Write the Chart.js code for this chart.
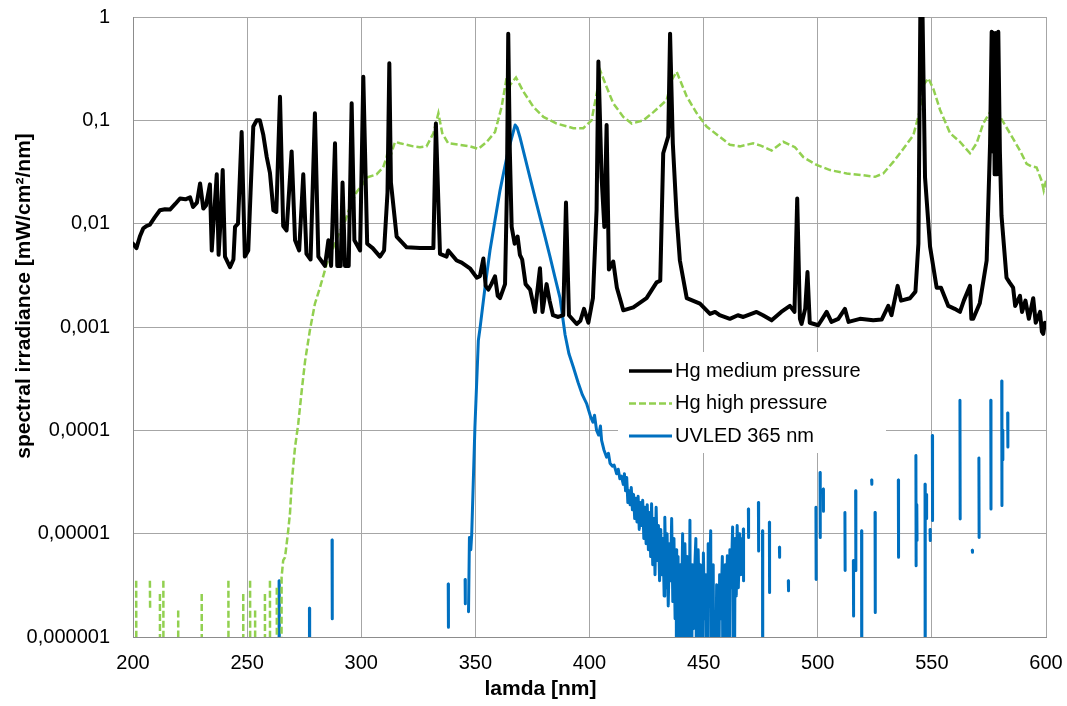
<!DOCTYPE html>
<html>
<head>
<meta charset="utf-8">
<script src="https://cdn.jsdelivr.net/npm/chart.js@4"></script>
<style>
  html, body { margin: 0; padding: 0; background: #fff; }
  #wrap { width: 1067px; height: 706px; }
</style>
</head>
<body>
<div id="wrap"><canvas id="spectrum" width="1067" height="706"></canvas></div>
<script>
// Series names and axis titles
const seriesNames = ['Hg medium pressure', 'Hg high pressure', 'UVLED 365 nm'];
const xTitle = 'lamda [nm]';
const yTitle = 'spectral irradiance [mW/cm²/nm]';

// Axis ticks
const yTickValues = [1e-6, 1e-5, 1e-4, 1e-3, 1e-2, 1e-1, 1];
const yTickLabels = ['0,000001', '0,00001', '0,0001', '0,001', '0,01', '0,1', '1'];
const xTickValues = [200, 250, 300, 350, 400, 450, 500, 550, 600];

// Hg medium pressure lamp: [nm, mW/cm²/nm]
const hgMedium = [
  [200.0,0.0064],[201.5,0.0058],[203.0,0.0075],[204.5,0.009],[206.0,0.0095],[207.4,0.0098],
  [209.5,0.0115],[211.8,0.0135],[214.0,0.0138],[216.2,0.0137],[218.5,0.0155],[220.6,0.0175],
  [223.0,0.0172],[225.0,0.018],[226.3,0.0145],[228.0,0.016],[229.4,0.0245],[230.8,0.014],
  [232.0,0.015],[233.7,0.024],[234.5,0.0055],[235.5,0.012],[236.7,0.030],[237.5,0.005],
  [238.5,0.012],[239.3,0.033],[240.3,0.0048],[242.5,0.0038],[244.0,0.0045],[244.7,0.0093],
  [246.0,0.010],[247.6,0.077],[249.0,0.0048],[250.5,0.0055],[251.5,0.020],[252.7,0.087],
  [254.2,0.10],[255.6,0.10],[257.1,0.072],[258.6,0.044],[260.0,0.031],[261.5,0.0135],
  [262.8,0.013],[264.4,0.169],[265.8,0.0095],[267.3,0.0086],[269.5,0.050],[271.0,0.0069],
  [272.8,0.0055],[274.6,0.030],[276.0,0.0051],[277.8,0.0045],[279.7,0.117],[281.2,0.0048],
  [284.1,0.0039],[285.6,0.0069],[286.8,0.0039],[288.5,0.060],[289.5,0.0039],[291.0,0.0039],
  [291.8,0.025],[292.9,0.0039],[294.5,0.0039],[295.8,0.146],[297.0,0.0069],[299.5,0.0055],
  [300.9,0.264],[302.6,0.0064],[305.0,0.0058],[308.2,0.0048],[310.0,0.0055],[311.5,0.02],
  [312.3,0.356],[313.0,0.025],[315.5,0.0075],[319.9,0.0059],[325.7,0.0058],[331.6,0.0058],
  [332.7,0.093],[334.5,0.0051],[337.4,0.0048],[338.1,0.0055],[341.8,0.0044],[344.0,0.0042],
  [347.6,0.0037],[350.6,0.0030],[352.0,0.0031],[353.5,0.0046],[354.5,0.0025],[355.7,0.0023],
  [357.0,0.0026],[358.6,0.0031],[359.8,0.0020],[360.8,0.0019],[363.0,0.0026],[363.8,0.02],
  [364.4,0.69],[365.1,0.05],[365.9,0.0093],[367.2,0.0064],[368.5,0.0075],[369.5,0.0050],
  [370.5,0.0045],[372.0,0.0026],[374.0,0.0023],[376.1,0.0014],[378.3,0.0037],[379.4,0.0014],
  [381.2,0.0026],[382.5,0.0018],[384.0,0.0013],[386.3,0.00125],[388.5,0.0013],[389.7,0.016],
  [391.0,0.0013],[394.4,0.00107],[396.0,0.00115],[397.6,0.0015],[399.5,0.0011],[401.5,0.0019],
  [403.1,0.0135],[403.9,0.37],[405.3,0.028],[406.5,0.0093],[407.5,0.09],[408.5,0.0036],
  [410.4,0.0043],[412.0,0.0024],[414.8,0.00145],[419.2,0.00155],[425.0,0.0019],[429.4,0.0027],
  [431.0,0.0028],[432.3,0.048],[434.5,0.07],[435.3,0.69],[436.5,0.06],[438.2,0.0116],
  [439.6,0.0044],[442.6,0.0019],[448.4,0.00168],[452.8,0.00134],[455.0,0.0014],[457.0,0.0013],
  [461.5,0.0012],[465.0,0.0013],[467.4,0.00125],[473.2,0.0014],[476.0,0.0013],[479.8,0.00116],
  [484.0,0.0014],[487.8,0.0016],[489.8,0.0014],[491.0,0.0175],[492.2,0.0012],[492.9,0.00107],
  [494.5,0.0015],[495.5,0.0034],[496.5,0.0011],[500.2,0.00104],[502.0,0.0012],[503.9,0.0014],
  [506.0,0.00112],[509.0,0.0012],[511.9,0.0015],[513.5,0.00112],[518.5,0.0012],[524.3,0.00116],
  [528.0,0.00118],[530.9,0.0016],[532.3,0.0013],[535.0,0.0025],[536.5,0.0018],[540.4,0.0019],
  [542.8,0.0022],[544.1,0.0064],[545.0,1.5],[545.8,1.5],[547.0,0.028],[549.2,0.0060],
  [552.1,0.0024],[554.0,0.0024],[557.2,0.0016],[560.0,0.0015],[562.3,0.0014],[564.0,0.0018],
  [566.7,0.0025],[567.3,0.0012],[568.1,0.0012],[571.0,0.0017],[574.0,0.0044],[575.5,0.06],
  [576.2,0.72],[576.6,0.05],[577.0,0.70],[577.5,0.03],[578.0,0.70],[578.5,0.03],
  [579.1,0.72],[579.8,0.05],[580.5,0.012],[582.7,0.003],[584.0,0.0027],[585.6,0.0024],
  [586.5,0.0016],[588.6,0.0020],[589.5,0.0014],[591.0,0.0018],[592.5,0.0012],[594.4,0.0019],
  [595.5,0.0011],[597.4,0.0014],[598.2,0.0009],[598.8,0.00086],[599.5,0.0011],[600.0,0.00105]
];

// Hg high pressure lamp (null = gap, 1e-8 = below the axis floor)
const hgHigh = [
  [201.4,3.5e-6],[201.6,1e-8],[201.7,null],
  [207.4,3.5e-6],[207.5,1.9e-6],[207.6,null],
  [211.8,2.6e-6],[211.9,1e-8],[212.0,null],
  [213.3,3.5e-6],[213.4,1e-8],[213.5,null],
  [219.8,1.8e-6],[219.9,1e-8],[220.0,null],
  [230.1,2.6e-6],[230.2,1e-8],[230.3,null],
  [241.8,3.5e-6],[241.9,1e-8],[242.0,null],
  [248.3,2.6e-6],[248.4,1e-8],[248.5,null],
  [251.3,3.5e-6],[251.4,1e-8],[251.5,null],
  [253.5,1.8e-6],[253.6,1e-8],[253.7,null],
  [257.8,2.6e-6],[257.9,1e-8],[258.0,null],
  [260.0,3.5e-6],[260.1,1e-8],[260.2,null],
  [263.0,3.0e-6],[263.1,1e-8],[263.2,null],
  [265.0,1e-8],[265.1,3.8e-6],[265.8,5.5e-6],[266.6,5.9e-6],[267.3,7.9e-6],[268.0,1.07e-5],
  [268.8,1.6e-5],[269.5,3.0e-5],[270.2,4.5e-5],[271.0,6.9e-5],[272.4,1.16e-4],[273.9,2.4e-4],
  [275.4,4.7e-4],[277.5,9.3e-4],[279.7,0.00168],[281.9,0.0024],[284.9,0.0041],[287.8,0.0059],
  [290.7,0.0086],[292.1,0.0093],[295.0,0.0145],[298.0,0.0203],[300.9,0.0245],[302.4,0.028],
  [306.7,0.030],[309.6,0.035],[311.1,0.044],[311.8,0.053],[312.3,0.030],[312.8,0.045],
  [314.8,0.062],[317.0,0.060],[319.9,0.058],[322.8,0.056],[325.7,0.055],[328.6,0.056],
  [331.6,0.075],[333.8,0.117],[335.5,0.075],[338.1,0.060],[343.2,0.058],[347.6,0.056],
  [351.3,0.053],[355.0,0.062],[358.6,0.077],[361.5,0.135],[363.7,0.26],[364.5,0.16],
  [365.2,0.22],[367.8,0.26],[371.0,0.19],[375.4,0.135],[379.8,0.108],[385.6,0.093],
  [392.9,0.084],[397.3,0.084],[400.9,0.10],[403.1,0.18],[404.9,0.295],[407.5,0.21],
  [410.4,0.146],[414.8,0.108],[418.5,0.093],[423.6,0.10],[428.0,0.12],[433.8,0.157],
  [436.0,0.245],[438.2,0.295],[442.6,0.17],[447.0,0.117],[451.3,0.087],[457.2,0.069],
  [461.5,0.058],[465.9,0.056],[471.7,0.060],[475.0,0.057],[479.8,0.051],[484.9,0.062],
  [490.0,0.055],[493.7,0.044],[499.5,0.037],[505.4,0.033],[512.7,0.0306],[520.0,0.0294],
  [525.1,0.0284],[528.7,0.0306],[533.1,0.0396],[537.5,0.053],[541.9,0.072],[544.8,0.126],
  [546.3,0.22],[548.5,0.255],[550.7,0.20],[553.6,0.126],[558.0,0.075],[562.3,0.062],
  [566.7,0.048],[569.6,0.060],[572.5,0.093],[575.5,0.12],[577.7,0.13],[579.9,0.108],
  [584.2,0.075],[588.6,0.051],[591.5,0.038],[593.5,0.036],[595.9,0.035],[597.0,0.030],
  [598.1,0.026],[599.0,0.021],[600.0,0.026]
];

// UV LED 365 nm (null = gap, 1e-8 = below the axis floor)
const uvLed = [
  [264.0,3.5e-6],[264.1,1e-8],[264.2,null],
  [277.3,1.9e-6],[277.4,1e-8],[277.5,null],
  [287.2,8.7e-6],[287.3,1.5e-6],[287.4,null],
  [338.1,3.25e-6],[338.2,1.24e-6],[338.3,null],
  [345.5,3.6e-6],[345.6,2.1e-6],[345.7,null],
  [347.0,1.76e-6],[347.4,9.2e-6],[348.0,7e-6],[348.4,9.9e-6],[349.8,1.07e-4],[351.3,7.4e-4],
  [352.0,9.6e-4],[354.2,0.0024],[356.4,0.0055],[358.6,0.0108],[360.8,0.021],[362.6,0.033],
  [364.4,0.051],[366.0,0.069],[367.4,0.09],[368.3,0.085],[369.5,0.069],[371.7,0.044],
  [373.9,0.028],[376.1,0.018],[378.3,0.0116],[380.5,0.0075],[382.7,0.0048],[384.9,0.003],
  [387.1,0.0019],[389.3,8.4e-4],[391.0,5.5e-4],[392.9,4.1e-4],[395.0,2.9e-4],[396.9,2.2e-4],
  [398.8,1.8e-4],[400.5,1.35e-4],[401.5,1.2e-4],[402.2,1.4e-4],[403.1,1e-4],[404.0,9e-5],
  [404.8,1.1e-4],[405.3,8e-5],[406.3,6.5e-5],[407.5,5.5e-5],[408.3,6e-5],[409.0,4.8e-5],
  [410.0,4.5e-5],[410.8,4.6e-5],[411.9,3.8e-5],[412.6,4.2e-5],[413.3,3.4e-5],[414.0,3.6e-5],
  [414.8,3e-5],[415.3,3.8e-5],[415.8,2.6e-5],[416.3,3.5e-5],[416.8,2e-5],[417.3,2.6e-5],
  [417.8,1.9e-5],[418.3,2.8e-5],[418.8,1.7e-5],[419.3,2.4e-5],[419.8,1.4e-5],[420.3,2.2e-5],
  [420.8,1.3e-5],[421.3,2.3e-5],[421.8,1.1e-5],[422.3,2e-5],[422.8,1.2e-5],[423.3,2.1e-5],
  [423.8,9e-6],[424.3,1.8e-5],[424.8,8e-6],[425.3,1.9e-5],[425.8,7e-6],[426.3,1.6e-5],
  [426.8,6e-6],[427.2,1.95e-5],[427.7,5e-6],[428.2,1.4e-5],[428.7,4e-6],[429.2,1.8e-5],
  [429.7,5.5e-6],[430.2,1.2e-5],[430.7,3.5e-6],[431.2,1.1e-5],[431.7,4e-6],[432.2,9e-6],
  [432.7,2.5e-6],[433.0,1.44e-5],[433.5,3e-6],[434.0,1e-5],[434.5,2e-6],[435.0,8e-6],
  [435.5,3.5e-6],[436.0,1.4e-5],[436.5,2.2e-6],[437.0,9e-6],[437.5,1.5e-6],[438.0,7e-6],
  [438.2,1e-8],[438.8,6e-6],[439.3,1e-8],[439.8,5e-6],[440.3,1.5e-6],[440.8,1e-5],
  [441.3,1e-8],[441.8,8e-6],[442.3,2e-6],[442.8,6e-6],[443.3,1e-8],[444.0,1.35e-5],
  [444.5,1e-8],[445.0,5e-6],[445.5,1.2e-6],[446.0,4e-6],[446.6,9e-6],[447.1,1e-8],
  [447.6,7e-6],[448.1,2e-6],[448.6,5e-6],[449.1,1e-8],[449.9,6.5e-6],[450.4,1.5e-6],
  [451.0,4e-6],[451.5,1e-8],[452.0,8e-6],[452.5,3e-6],[453.1,1.07e-5],[453.6,1e-8],
  [454.2,5e-6],[454.7,1e-8],[455.7,3.2e-6],[456.2,1e-8],[457.0,4e-6],[457.5,1.5e-6],
  [458.2,6e-6],[458.7,1e-8],[459.5,5e-6],[460.0,2e-6],[460.4,6.1e-6],[460.9,1e-8],
  [461.5,7e-6],[462.0,3e-6],[462.7,1.16e-5],[463.2,1e-8],[463.8,9e-6],[464.3,2.5e-6],
  [464.7,1.2e-5],[465.2,3e-6],[465.8,1e-5],[466.3,4e-6],[466.8,9e-6],[467.0,null],
  [467.4,1.11e-5],[467.5,3.5e-6],[467.6,null],
  [469.6,1.73e-5],[469.7,9.2e-6],[469.8,null],
  [474.0,2.0e-5],[474.1,6.8e-6],[474.2,null],
  [475.8,1.07e-5],[475.9,1e-8],[476.0,null],
  [478.8,1.29e-5],[478.9,2.7e-6],[479.0,null],
  [483.2,7.4e-6],[483.3,5.9e-6],[483.4,null],
  [487.1,3.5e-6],[487.2,2.8e-6],[487.3,null],
  [499.2,1.8e-5],[499.3,3.6e-6],[499.4,null],
  [501.0,3.9e-5],[501.1,9.2e-6],[501.2,null],
  [502.4,2.7e-5],[502.5,1.65e-5],[502.6,null],
  [511.9,1.6e-5],[512.0,4.4e-6],[512.1,null],
  [515.6,5.5e-6],[515.7,1.6e-6],[515.8,null],
  [516.6,2.6e-5],[516.7,4.4e-6],[516.8,null],
  [519.2,1.07e-5],[519.3,1e-8],[519.4,null],
  [523.6,3.3e-5],[523.7,3.0e-5],[523.8,null],
  [525.1,1.6e-5],[525.2,1.73e-6],[525.3,null],
  [535.3,3.3e-5],[535.4,5.9e-6],[535.5,null],
  [543.0,5.7e-5],[543.1,4.9e-6],[543.2,null],
  [543.4,1.9e-5],[543.5,8.6e-6],[543.6,null],
  [547.0,3.0e-5],[547.1,1e-8],[547.2,null],
  [547.6,2.4e-5],[547.7,1.4e-5],[547.8,null],
  [549.2,1.1e-5],[549.3,8.6e-6],[549.4,null],
  [550.2,8.9e-5],[550.3,1.34e-5],[550.4,null],
  [562.3,1.95e-4],[562.4,1.39e-5],[562.5,null],
  [567.7,6.9e-6],[567.8,6.6e-6],[567.9,null],
  [570.6,5.4e-5],[570.7,9.2e-6],[570.8,null],
  [575.8,1.95e-4],[575.9,1.73e-5],[576.0,null],
  [580.6,3.0e-4],[580.7,1.87e-5],[580.8,null],
  [581.0,1.0e-4],[581.1,5.2e-5],[581.2,null],
  [583.2,1.47e-4],[583.3,6.9e-5]
];

const FONT = "'Liberation Sans', Arial, sans-serif";
const toPoints = arr => arr.map(p => ({ x: p[0], y: p[1] }));

// Legend drawn inside the plot area, on a white box
const insideLegend = {
    id: 'insideLegend',
    afterDatasetsDraw(chart) {
        const ctx = chart.ctx;
        const a = chart.chartArea;
        const bx = a.left + 485, by = a.top + 335, bw = 268, bh = 101;
        ctx.save();
        ctx.fillStyle = '#ffffff';
        ctx.fillRect(bx, by, bw, bh);
        ctx.font = '20px ' + FONT;
        ctx.textBaseline = 'middle';
        ctx.fillStyle = '#000000';
        chart.data.datasets.forEach((ds, i) => {
            const y = by + 19 + i * 32.5;
            ctx.beginPath();
            ctx.strokeStyle = ds.borderColor;
            ctx.lineWidth = Math.min(ds.borderWidth, 3.5);
            ctx.setLineDash(ds.borderDash || []);
            ctx.moveTo(bx + 11, y);
            ctx.lineTo(bx + 54, y);
            ctx.stroke();
            ctx.setLineDash([]);
            ctx.fillText(ds.label, bx + 57, y);
        });
        ctx.restore();
    }
};

// Axis titles, centred like the spreadsheet does (on the whole chart, not the plot)
const axisTitles = {
    id: 'axisTitles',
    afterDraw(chart) {
        const ctx = chart.ctx;
        ctx.save();
        ctx.fillStyle = '#000000';
        ctx.font = 'bold 21px ' + FONT;
        ctx.textAlign = 'center';
        ctx.textBaseline = 'middle';
        ctx.fillText(xTitle, chart.width / 2 + 7, chart.height - 17);
        ctx.translate(24, chart.height / 2 - 57);
        ctx.rotate(-Math.PI / 2);
        ctx.fillText(yTitle, 0, 0);
        ctx.restore();
    }
};

new Chart(document.getElementById('spectrum').getContext('2d'), {
    type: 'line',
    data: {
        datasets: [{
            label: seriesNames[0],
            data: toPoints(hgMedium),
            borderColor: '#000000',
            borderWidth: 4,
            borderJoinStyle: 'round',
            borderCapStyle: 'round'
        }, {
            label: seriesNames[1],
            data: toPoints(hgHigh),
            borderColor: '#92D050',
            borderWidth: 2.5,
            borderDash: [7, 3]
        }, {
            label: seriesNames[2],
            data: toPoints(uvLed),
            borderColor: '#0070C0',
            borderWidth: 3,
            borderJoinStyle: 'round',
            borderCapStyle: 'round'
        }]
    },
    options: {
        responsive: false,
        animation: false,
        devicePixelRatio: 1,
        spanGaps: false,
        elements: { point: { radius: 0 }, line: { tension: 0 } },
        layout: { padding: { top: 17, right: 21, left: 0, bottom: 0 } },
        plugins: {
            legend: { display: false },
            tooltip: { enabled: false }
        },
        scales: {
            x: {
                type: 'linear',
                min: 200,
                max: 600,
                afterBuildTicks: s => { s.ticks = xTickValues.map(v => ({ value: v })); },
                afterFit: s => { s.height = 69; s.paddingLeft = 0; s.paddingRight = 0; },
                grid: { color: '#a6a6a6', drawTicks: false },
                border: { color: '#8c8c8c' },
                ticks: { color: '#000', padding: 14, font: { family: FONT, size: 20 }, maxRotation: 0 }
            },
            y: {
                type: 'logarithmic',
                min: 1e-6,
                max: 1,
                afterBuildTicks: s => { s.ticks = yTickValues.map(v => ({ value: v })); },
                afterFit: s => { s.width = 133; s.paddingTop = 0; s.paddingBottom = 0; },
                grid: { color: '#a6a6a6', drawTicks: false },
                border: { color: '#8c8c8c' },
                ticks: {
                    color: '#000',
                    padding: 23,
                    font: { family: FONT, size: 20 },
                    callback: v => yTickLabels[yTickValues.findIndex(t => Math.abs(Math.log10(t) - Math.log10(v)) < 1e-6)]
                }
            }
        }
    },
    plugins: [insideLegend, axisTitles]
});
</script>
</body>
</html>
